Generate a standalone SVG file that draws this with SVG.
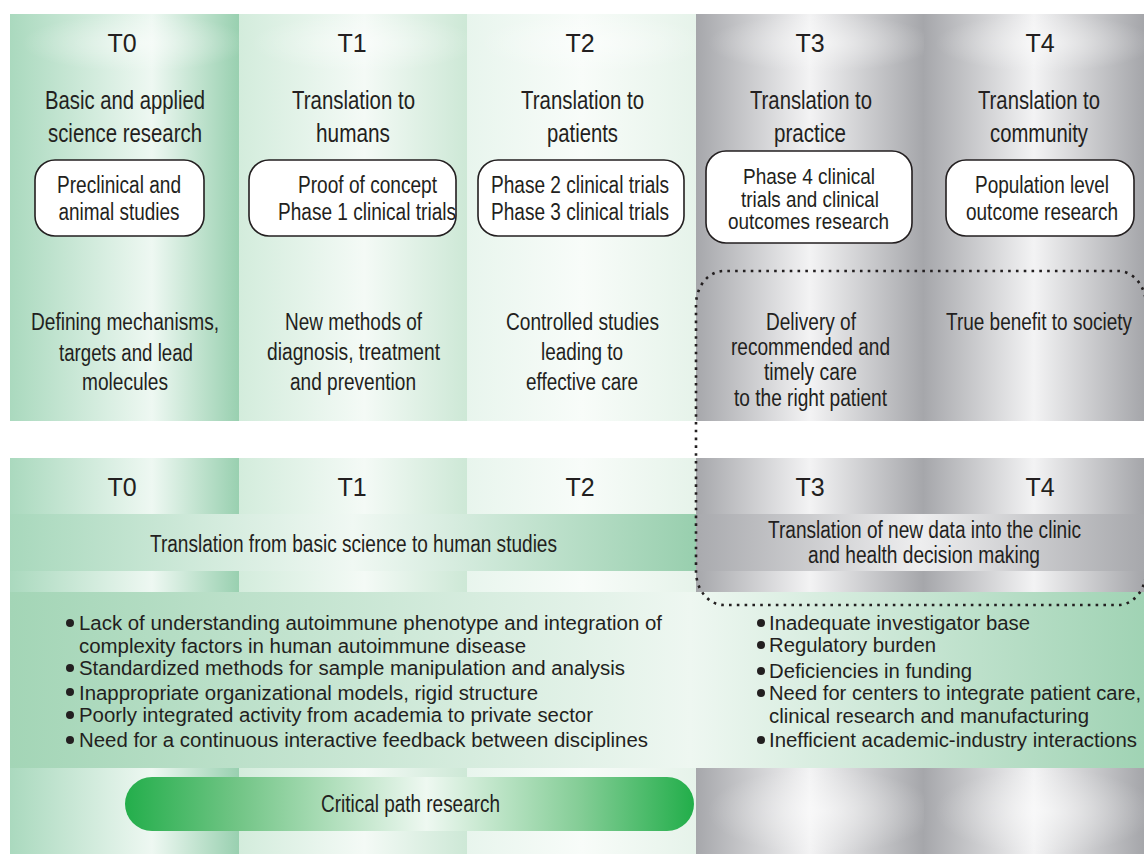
<svg xmlns="http://www.w3.org/2000/svg" width="1144" height="854" viewBox="0 0 1144 854">
<defs>
<linearGradient id="g0" x1="0" y1="0" x2="1" y2="0">
<stop offset="0" stop-color="#aad9be"/><stop offset="0.62" stop-color="#eef8f2"/><stop offset="1" stop-color="#99d0b0"/>
</linearGradient>
<linearGradient id="g1" x1="0" y1="0" x2="1" y2="0">
<stop offset="0" stop-color="#d3ecdc"/><stop offset="0.55" stop-color="#f4faf6"/><stop offset="1" stop-color="#cde8d6"/>
</linearGradient>
<linearGradient id="g2" x1="0" y1="0" x2="1" y2="0">
<stop offset="0" stop-color="#e8f5ed"/><stop offset="0.5" stop-color="#f8fcf9"/><stop offset="1" stop-color="#e6f3ea"/>
</linearGradient>
<linearGradient id="gg" x1="0" y1="0" x2="1" y2="0">
<stop offset="0" stop-color="#a6a7ab"/><stop offset="0.5" stop-color="#f3f3f4"/><stop offset="1" stop-color="#a5a6aa"/>
</linearGradient>
<linearGradient id="gband" x1="0" y1="0" x2="1" y2="0">
<stop offset="0" stop-color="#a8d8bc"/><stop offset="0.5" stop-color="#f0f8f3"/><stop offset="1" stop-color="#98cfae"/>
</linearGradient>
<linearGradient id="gbandg" x1="0" y1="0" x2="1" y2="0">
<stop offset="0" stop-color="#a9aaae"/><stop offset="0.5" stop-color="#eeeeef"/><stop offset="1" stop-color="#a7a8ac"/>
</linearGradient>
<linearGradient id="gbig" x1="0" y1="0" x2="1" y2="0">
<stop offset="0" stop-color="#a3d5b6"/><stop offset="0.6" stop-color="#eef7f1"/><stop offset="1" stop-color="#a0d3b4"/>
</linearGradient>
<linearGradient id="gpill" x1="0" y1="0" x2="1" y2="0">
<stop offset="0" stop-color="#23ae4b"/><stop offset="0.2" stop-color="#72c586"/><stop offset="0.53" stop-color="#eef8f1"/><stop offset="0.8" stop-color="#84cd96"/><stop offset="1" stop-color="#22ae4a"/>
</linearGradient>
<radialGradient id="glow" cx="0.55" cy="0.5" r="0.5">
<stop offset="0" stop-color="#ffffff" stop-opacity="0.5"/><stop offset="1" stop-color="#ffffff" stop-opacity="0"/>
</radialGradient>
<style>
.t{font-family:"Liberation Sans",Arial,sans-serif;font-size:25px;fill:#231f20;text-anchor:middle}
.n{font-family:"Liberation Sans Narrow","Liberation Sans",Arial,sans-serif;font-size:26px;fill:#231f20;text-anchor:middle}
.s{font-size:23.5px}
.xs{font-size:21.5px}
.b{font-family:"Liberation Sans",Arial,sans-serif;font-size:20px;fill:#231f20}
.box{fill:#ffffff;stroke:#231f20;stroke-width:1.6}
.dot{fill:#231f20}
.glow{fill:url(#glow)}
.dotted{fill:none;stroke:#231f20;stroke-width:2.6;stroke-dasharray:2.6 5.2}
</style>
</defs>

<g id="background">
<rect x="10" y="14" width="229" height="407" fill="url(#g0)"/>
<rect x="239" y="14" width="228" height="407" fill="url(#g1)"/>
<rect x="467" y="14" width="229" height="407" fill="url(#g2)"/>
<rect x="696" y="14" width="228" height="407" fill="url(#gg)"/>
<rect x="924" y="14" width="220" height="407" fill="url(#gg)"/>
<rect x="10" y="14" width="229" height="58" class="glow"/>
<rect x="239" y="14" width="228" height="58" class="glow"/>
<rect x="467" y="14" width="229" height="58" class="glow"/>
<rect x="696" y="14" width="228" height="58" class="glow"/>
<rect x="924" y="14" width="220" height="58" class="glow"/>
<rect x="10" y="458" width="229" height="56" fill="url(#g0)"/>
<rect x="239" y="458" width="228" height="56" fill="url(#g1)"/>
<rect x="467" y="458" width="229" height="56" fill="url(#g2)"/>
<rect x="696" y="458" width="228" height="56" fill="url(#gg)"/>
<rect x="924" y="458" width="220" height="56" fill="url(#gg)"/>
<rect x="10" y="514" width="686" height="57" fill="url(#gband)"/>
<rect x="696" y="514" width="448" height="57" fill="url(#gbandg)"/>
<rect x="10" y="571" width="229" height="21" fill="url(#g0)"/>
<rect x="239" y="571" width="228" height="21" fill="url(#g1)"/>
<rect x="467" y="571" width="229" height="21" fill="url(#g2)"/>
<rect x="696" y="571" width="228" height="21" fill="url(#gg)"/>
<rect x="924" y="571" width="220" height="21" fill="url(#gg)"/>
<rect x="10" y="592" width="1134" height="176" fill="url(#gbig)"/>
<rect x="10" y="768" width="229" height="86" fill="url(#g0)"/>
<rect x="239" y="768" width="228" height="86" fill="url(#g1)"/>
<rect x="467" y="768" width="229" height="86" fill="url(#g2)"/>
<rect x="696" y="768" width="228" height="86" fill="url(#gg)"/>
<rect x="924" y="768" width="220" height="86" fill="url(#gg)"/>
<rect x="696" y="768" width="228" height="86" class="glow"/>
<rect x="924" y="768" width="220" height="86" class="glow"/>
</g>

<g id="top-labels">
<text class="t" x="122" y="52">T0</text>
<text class="t" x="352" y="52">T1</text>
<text class="t" x="580" y="52">T2</text>
<text class="t" x="810" y="52">T3</text>
<text class="t" x="1040" y="52">T4</text>
</g>

<g id="col-T0">
<text class="n" x="125" y="109" textLength="160" lengthAdjust="spacingAndGlyphs">Basic and applied</text>
<text class="n" x="125" y="142" textLength="154" lengthAdjust="spacingAndGlyphs">science research</text>
<text class="n s" x="125" y="330" textLength="188" lengthAdjust="spacingAndGlyphs">Defining mechanisms,</text>
<text class="n s" x="126" y="361" textLength="134" lengthAdjust="spacingAndGlyphs">targets and lead</text>
<text class="n s" x="125" y="390" textLength="86" lengthAdjust="spacingAndGlyphs">molecules</text>
</g>
<g id="node-T0">
<rect class="box" x="35" y="160" width="169" height="76" rx="20"/>
<text class="n s" x="119" y="193" textLength="124" lengthAdjust="spacingAndGlyphs">Preclinical and</text>
<text class="n s" x="119" y="220" textLength="121" lengthAdjust="spacingAndGlyphs">animal studies</text>
</g>

<g id="col-T1">
<text class="n" x="353.5" y="109" textLength="123" lengthAdjust="spacingAndGlyphs">Translation to</text>
<text class="n" x="353" y="142" textLength="74" lengthAdjust="spacingAndGlyphs">humans</text>
<text class="n s" x="353.5" y="330" textLength="137" lengthAdjust="spacingAndGlyphs">New methods of</text>
<text class="n s" x="353.5" y="360" textLength="173" lengthAdjust="spacingAndGlyphs">diagnosis, treatment</text>
<text class="n s" x="353" y="390" textLength="126" lengthAdjust="spacingAndGlyphs">and prevention</text>
</g>
<g id="node-T1">
<rect class="box" x="249" y="160" width="207" height="76" rx="20"/>
<text class="n s" x="367.5" y="193" textLength="139" lengthAdjust="spacingAndGlyphs">Proof of concept</text>
<text class="n s" x="367" y="220" textLength="178" lengthAdjust="spacingAndGlyphs">Phase 1 clinical trials</text>
</g>

<g id="col-T2">
<text class="n" x="582.5" y="109" textLength="123" lengthAdjust="spacingAndGlyphs">Translation to</text>
<text class="n" x="582.5" y="142" textLength="71" lengthAdjust="spacingAndGlyphs">patients</text>
<text class="n s" x="582.5" y="330" textLength="153" lengthAdjust="spacingAndGlyphs">Controlled studies</text>
<text class="n s" x="582" y="360" textLength="82" lengthAdjust="spacingAndGlyphs">leading to</text>
<text class="n s" x="582" y="390" textLength="112" lengthAdjust="spacingAndGlyphs">effective care</text>
</g>
<g id="node-T2">
<rect class="box" x="478" y="160" width="206" height="76" rx="20"/>
<text class="n s" x="580" y="193" textLength="178" lengthAdjust="spacingAndGlyphs">Phase 2 clinical trials</text>
<text class="n s" x="580" y="220" textLength="178" lengthAdjust="spacingAndGlyphs">Phase 3 clinical trials</text>
</g>

<g id="col-T3">
<text class="n" x="811" y="109" textLength="122" lengthAdjust="spacingAndGlyphs">Translation to</text>
<text class="n" x="810" y="142" textLength="72" lengthAdjust="spacingAndGlyphs">practice</text>
<text class="n s" x="811" y="330" textLength="90" lengthAdjust="spacingAndGlyphs">Delivery of</text>
<text class="n s" x="810.5" y="355" textLength="159" lengthAdjust="spacingAndGlyphs">recommended and</text>
<text class="n s" x="810.5" y="380" textLength="93" lengthAdjust="spacingAndGlyphs">timely care</text>
<text class="n s" x="810.5" y="406" textLength="153" lengthAdjust="spacingAndGlyphs">to the right patient</text>
</g>
<g id="node-T3">
<rect class="box" x="706" y="151" width="206" height="92" rx="20"/>
<text class="n xs" x="809" y="184" textLength="132" lengthAdjust="spacingAndGlyphs">Phase 4 clinical</text>
<text class="n xs" x="810" y="207" textLength="138" lengthAdjust="spacingAndGlyphs">trials and clinical</text>
<text class="n xs" x="808.5" y="229" textLength="161" lengthAdjust="spacingAndGlyphs">outcomes research</text>
</g>

<g id="col-T4">
<text class="n" x="1039" y="109" textLength="122" lengthAdjust="spacingAndGlyphs">Translation to</text>
<text class="n" x="1039" y="142" textLength="98" lengthAdjust="spacingAndGlyphs">community</text>
<text class="n s" x="1039" y="330" textLength="186" lengthAdjust="spacingAndGlyphs">True benefit to society</text>
</g>
<g id="node-T4">
<rect class="box" x="946" y="160" width="188" height="76" rx="20"/>
<text class="n s" x="1042" y="193" textLength="134" lengthAdjust="spacingAndGlyphs">Population level</text>
<text class="n s" x="1042" y="220" textLength="152" lengthAdjust="spacingAndGlyphs">outcome research</text>
</g>

<g id="bottom-labels">
<text class="t" x="122" y="496">T0</text>
<text class="t" x="352" y="496">T1</text>
<text class="t" x="580" y="496">T2</text>
<text class="t" x="810" y="496">T3</text>
<text class="t" x="1040" y="496">T4</text>
</g>

<g id="band-left">
<text class="n s" x="353.5" y="552" textLength="407" lengthAdjust="spacingAndGlyphs">Translation from basic science to human studies</text>
</g>
<g id="band-right">
<text class="n s" x="924.5" y="538" textLength="313" lengthAdjust="spacingAndGlyphs">Translation of new data into the clinic</text>
<text class="n s" x="924" y="563" textLength="232" lengthAdjust="spacingAndGlyphs">and health decision making</text>
</g>

<g id="bullets-left">
<circle class="dot" cx="70" cy="623" r="4"/>
<text class="b" x="79" y="630" textLength="583" lengthAdjust="spacingAndGlyphs">Lack of understanding autoimmune phenotype and integration of</text>
<text class="b" x="79" y="653" textLength="447" lengthAdjust="spacingAndGlyphs">complexity factors in human autoimmune disease</text>
<circle class="dot" cx="70" cy="668" r="4"/>
<text class="b" x="79" y="675" textLength="546" lengthAdjust="spacingAndGlyphs">Standardized methods for sample manipulation and analysis</text>
<circle class="dot" cx="70" cy="692" r="4"/>
<text class="b" x="79" y="700" textLength="459" lengthAdjust="spacingAndGlyphs">Inappropriate organizational models, rigid structure</text>
<circle class="dot" cx="70" cy="715" r="4"/>
<text class="b" x="79" y="722" textLength="514" lengthAdjust="spacingAndGlyphs">Poorly integrated activity from academia to private sector</text>
<circle class="dot" cx="70" cy="740" r="4"/>
<text class="b" x="79" y="747" textLength="569" lengthAdjust="spacingAndGlyphs">Need for a continuous interactive feedback between disciplines</text>
</g>

<g id="bullets-right">
<circle class="dot" cx="761" cy="623" r="4"/>
<text class="b" x="769" y="630" textLength="261" lengthAdjust="spacingAndGlyphs">Inadequate investigator base</text>
<circle class="dot" cx="761" cy="645" r="4"/>
<text class="b" x="769" y="652" textLength="167" lengthAdjust="spacingAndGlyphs">Regulatory burden</text>
<circle class="dot" cx="761" cy="671" r="4"/>
<text class="b" x="769" y="678" textLength="203" lengthAdjust="spacingAndGlyphs">Deficiencies in funding</text>
<circle class="dot" cx="761" cy="693" r="4"/>
<text class="b" x="769" y="700" textLength="372" lengthAdjust="spacingAndGlyphs">Need for centers to integrate patient care,</text>
<text class="b" x="769" y="723" textLength="320" lengthAdjust="spacingAndGlyphs">clinical research and manufacturing</text>
<circle class="dot" cx="761" cy="740" r="4"/>
<text class="b" x="769" y="747" textLength="368" lengthAdjust="spacingAndGlyphs">Inefficient academic-industry interactions</text>
</g>

<g id="critical-path">
<rect x="125" y="777" width="569" height="54" rx="27" fill="url(#gpill)"/>
<text class="n s" x="410.5" y="812" textLength="179" lengthAdjust="spacingAndGlyphs">Critical path research</text>
</g>

<g id="connectors">
<path class="dotted" d="M1146,305 A28,34 0 0 0 1118,271 L724,271 A28,34 0 0 0 696,305 L696,571 A28,34 0 0 0 724,605 L1118,605 A28,34 0 0 0 1146,571"/>
</g>
</svg>
